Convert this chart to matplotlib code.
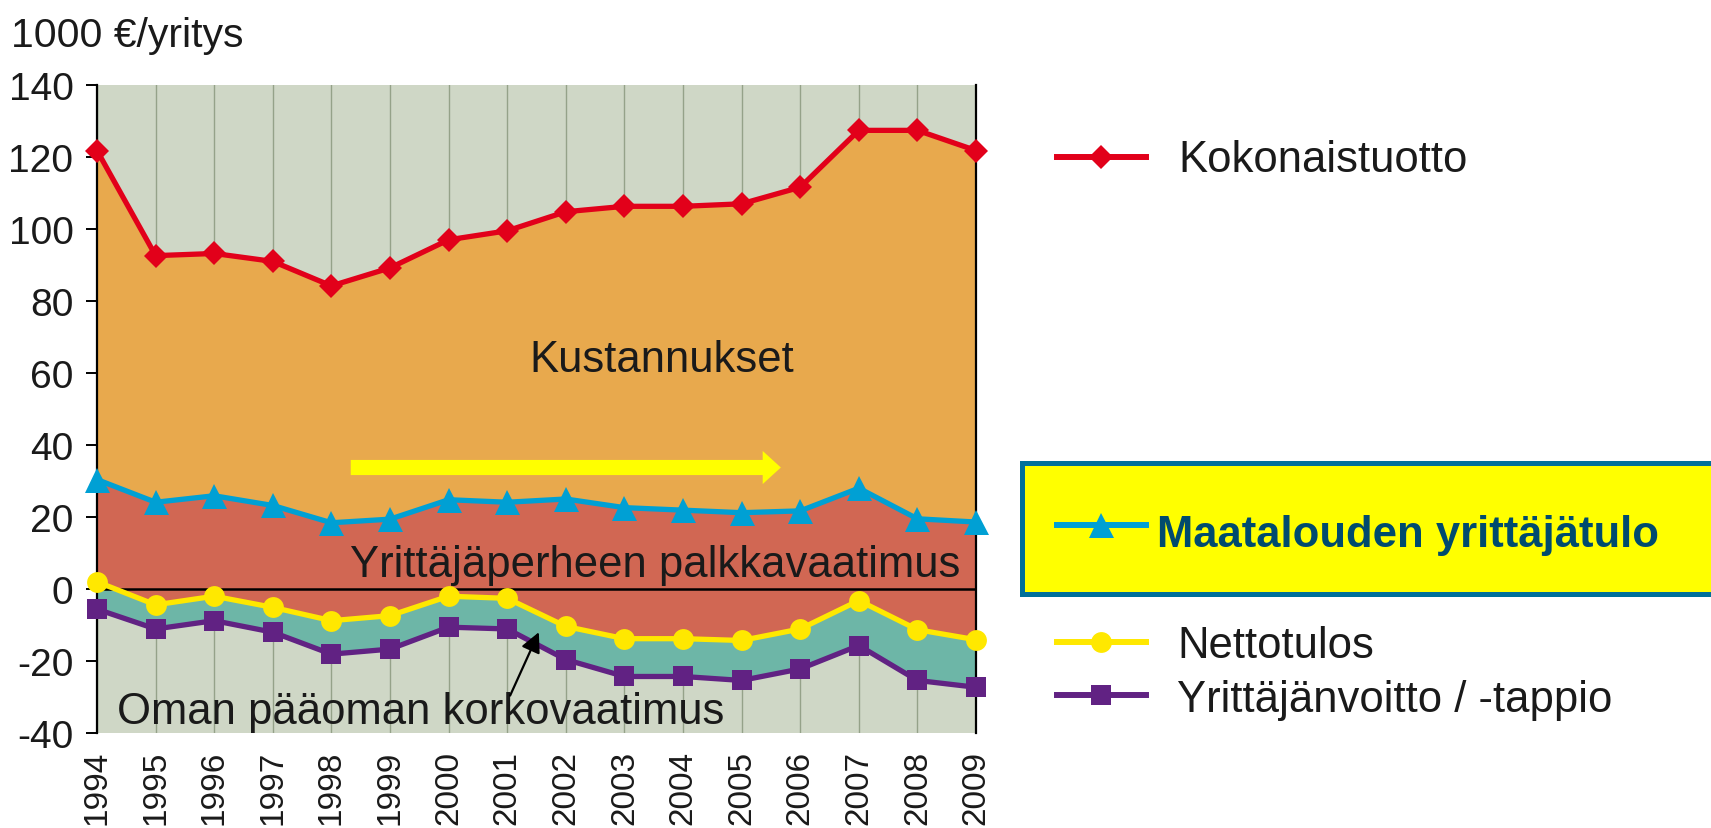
import matplotlib
matplotlib.use("Agg")
import matplotlib.pyplot as plt
from matplotlib.lines import Line2D
from matplotlib.patches import Rectangle, FancyArrow

# ---------------- data ----------------
years = [1994, 1995, 1996, 1997, 1998, 1999, 2000, 2001,
         2002, 2003, 2004, 2005, 2006, 2007, 2008, 2009]
kokonaistuotto = [121.8, 92.6, 93.2, 91.0, 84.2, 89.2, 97.0, 99.5,
                  104.8, 106.3, 106.3, 107.0, 111.6, 127.4, 127.4, 121.8]
yrittajatulo = [30.4, 24.1, 25.9, 23.2, 18.4, 19.4, 24.8, 24.1,
                25.0, 22.6, 21.9, 21.2, 21.7, 28.0, 19.5, 18.6]
nettotulos = [2.0, -4.4, -2.0, -5.1, -8.8, -7.4, -2.0, -2.6,
              -10.4, -13.8, -13.8, -14.3, -11.1, -3.2, -11.3, -14.1]
yrittajanvoitto = [-5.6, -11.1, -8.8, -12.0, -18.1, -16.7, -10.6, -11.1,
                   -19.6, -24.3, -24.3, -25.4, -22.2, -15.7, -25.4, -27.3]
year_labels = [str(y) for y in years]
y_ticks = [-40, -20, 0, 20, 40, 60, 80, 100, 120, 140]

series_names = ["Kokonaistuotto", "Maatalouden yrittäjätulo",
                "Nettotulos", "Yrittäjänvoitto / -tappio"]
area_labels = ["Kustannukset", "Yrittäjäperheen palkkavaatimus",
               "Oman pääoman korkovaatimus"]
y_title = "1000 €/yritys"

# ---------------- style ----------------
plt.rcParams["font.family"] = ["Liberation Sans", "DejaVu Sans"]

c_bg = "#CFD7C6"
c_orange = "#E8A94D"
c_redfill = "#D16753"
c_teal = "#6DB6A7"
c_red = "#E2001A"
c_blue = "#00A0D4"
c_yellow = "#FFE800"
c_purple = "#612283"
c_grid = "#95A289"
c_text = "#1a1a1a"

W, H = 1711, 829
fig = plt.figure(figsize=(W / 100, H / 100), dpi=100)
L, R, T, B = 97, 976, 86, 734
ax = fig.add_axes([L / W, 1 - B / H, (R - L) / W, (B - T) / H])

ax.set_facecolor(c_bg)
ax.set_xlim(years[0], years[-1])
ax.set_ylim(-40, 140)

# stacked areas between the series
ax.fill_between(years, yrittajatulo, kokonaistuotto, color=c_orange, lw=0, zorder=1)
ax.fill_between(years, nettotulos, yrittajatulo, color=c_redfill, lw=0, zorder=1)
ax.fill_between(years, yrittajanvoitto, nettotulos, color=c_teal, lw=0, zorder=1)

# vertical grid
ax.set_axisbelow(True)
ax.set_xticks(years)
ax.xaxis.grid(True, color=c_grid, lw=1.0)
ax.yaxis.grid(False)

ax.axhline(0, color="black", lw=1.8, zorder=2)

lw = 3.8
ax.plot(years, kokonaistuotto, color=c_red, lw=lw, marker="D", ms=12.5,
        mew=0, zorder=4, clip_on=False)
ax.plot(years, yrittajatulo, color=c_blue, lw=lw, marker="^", ms=18,
        mew=0, zorder=4, clip_on=False)
ax.plot(years, nettotulos, color=c_yellow, lw=lw, marker="o", ms=15,
        mew=0, zorder=4, clip_on=False)
ax.plot(years, yrittajanvoitto, color=c_purple, lw=lw, marker="s", ms=15,
        mew=0, zorder=4, clip_on=False)

# spines / ticks
for s in ["top", "bottom"]:
    ax.spines[s].set_visible(False)
for s in ["left", "right"]:
    ax.spines[s].set_color("black")
    ax.spines[s].set_linewidth(1.6)

ax.set_yticks(y_ticks)
ax.set_yticklabels([str(v) for v in y_ticks])
ax.tick_params(axis="y", direction="out", length=8, width=1.4, pad=9,
               labelsize=28, labelcolor=c_text)
ax.set_xticklabels(year_labels, rotation=90)
ax.tick_params(axis="x", length=0, pad=12, labelsize=24, labelcolor=c_text)
for lab in ax.get_xticklabels():
    lab.set_verticalalignment("top")

# area labels
fs_area = 31.4
ax.text(2003.63, 60.5, area_labels[0], fontsize=fs_area, ha="center",
        va="baseline", color=c_text, zorder=5)
ax.text(2003.53, 3.6, area_labels[1], fontsize=fs_area, ha="center",
        va="baseline", color=c_text, zorder=5)
ax.text(1999.53, -37.2, area_labels[2], fontsize=fs_area, ha="center",
        va="baseline", color=c_text, zorder=5)

# yellow trend arrow
ax.add_patch(FancyArrow(1998.33, 33.75, 7.34, 0, width=4.2, head_width=9.2,
                        head_length=0.31, length_includes_head=True,
                        color="#FFFF00", lw=0, zorder=3))
# black pointer arrow
ax.annotate("", xy=(2001.54, -12.0), xytext=(2001.05, -29.6),
            arrowprops=dict(arrowstyle="-|>", color="black", lw=1.6,
                            mutation_scale=30, shrinkA=0, shrinkB=0),
            zorder=5)

# y title
fig.text(11 / W, 1 - 47 / H, y_title, fontsize=29.5, ha="left",
         va="baseline", color=c_text)

# ---------------- legend (pixel coordinates overlay) ----------------
lax = fig.add_axes([0, 0, 1, 1], facecolor="none")
lax.set_xlim(0, W)
lax.set_ylim(H, 0)
lax.axis("off")

lax.add_patch(Rectangle((1022, 464), 720, 131, facecolor="#FFFF00",
                        edgecolor="#00709A", lw=3.6, clip_on=False))

leg = [
    (series_names[0], c_red, "D", 12.5, 158, 172, "normal", c_text, 1178),
    (series_names[1], c_blue, "^", 18, 526, 547, "bold", "#004B6E", 1157),
    (series_names[2], c_yellow, "o", 15, 643, 658, "normal", c_text, 1177),
    (series_names[3], c_purple, "s", 15, 696, 712, "normal", c_text, 1177),
]
for name, col, mk, ms, ly, base, wt, tcol, tx in leg:
    lax.add_line(Line2D([1057, 1146], [ly, ly], color=col, lw=4.3))
    lax.add_line(Line2D([1101.5], [ly], color=col, marker=mk, ms=ms, mew=0))
    lax.text(tx, base, name, fontsize=31.4, fontweight=wt, color=tcol,
             ha="left", va="baseline")

fig.savefig("out.png", dpi=100)
